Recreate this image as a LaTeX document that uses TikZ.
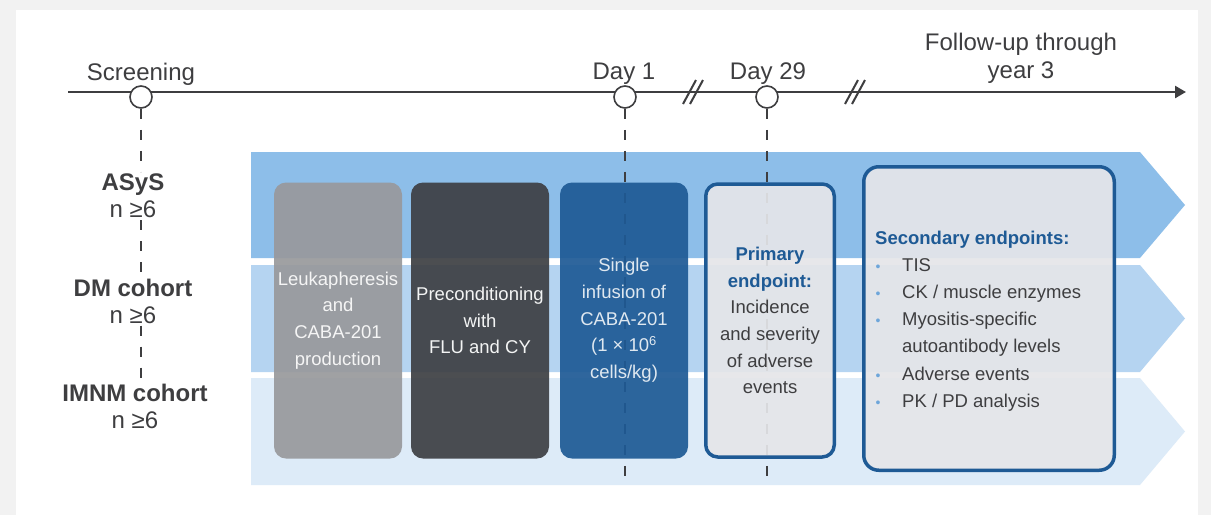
\documentclass[tikz,border=0pt]{standalone}
\usepackage{fontspec}
\setmainfont{Liberation Sans}
\usepackage{tikz}
\usetikzlibrary{arrows.meta, positioning, calc}
\definecolor{bandtop}{RGB}{141,190,233}
\definecolor{bandmid}{RGB}{181,212,241}
\definecolor{bandlow}{RGB}{221,235,248}
\definecolor{leukgray}{RGB}{152,153,156}
\definecolor{condgray}{RGB}{61,63,67}
\definecolor{navy}{RGB}{30,90,149}
\definecolor{panel}{RGB}{229,230,233}
\definecolor{ink}{RGB}{62,62,64}
\definecolor{dot}{RGB}{110,166,218}
\newcommand{\blt}{\makebox[27pt][l]{\hspace{0.5pt}\textcolor{dot}{\fontsize{14}{14}\selectfont •}}}

\begin{document}
\begin{tikzpicture}[x=1pt, y=-1pt,
  tl/.style={text=ink, font=\fontsize{24}{28}\selectfont, align=center},
  milestone/.style={circle, draw=ink, line width=1.6pt, fill=white, minimum size=22pt, inner sep=0pt},
  cohort/.style={text=ink, font=\fontsize{24}{27}\selectfont, align=center, inner sep=2pt},
  guide/.style={ink, line width=2.5pt, dash pattern=on 10pt off 11pt},
  phase/.style={rounded corners=12pt, minimum width=128pt, minimum height=276pt, align=center,
    font=\fontsize{18.5}{26.7}\selectfont, fill opacity=0.92, text opacity=1, inner sep=0pt},
  endpt/.style={phase, draw=navy, line width=3.5pt, fill=panel, text=ink}]
  \useasboundingbox (0,0) rectangle (1211,515);
  % frame
  \fill[black!5] (0,0) rectangle (1211,515);
  \fill[white] (16,10) rectangle (1198,515);
  % cohort bands
  \foreach \c/\t/\b in {bandtop/152/258, bandmid/265/372, bandlow/378/485} {
    \fill[\c] (251,\t) -- (1140,\t) -- (1185,{(\t+\b)/2}) -- (1140,\b) -- (251,\b) -- cycle;
  }
  % timeline
  \coordinate (tstart) at (68,92);
  \coordinate (tend) at (1186,92);
  \draw[ink, line width=2.5pt, -{Triangle[length=11pt, width=12pt]}] (tstart) -- (tend);
  \foreach \bx in {695,857} {
    \draw[ink, line width=2pt] (\bx-12,104) -- (\bx+1,80);
    \draw[ink, line width=2pt] (\bx-5,104) -- (\bx+8,80);
  }
  \node[milestone] (screen) at (141,97) {};
  \node[milestone] (day1) at (625,97) {};
  \node[milestone] (day29) at (767,97) {};
  \node[tl, anchor=base] (screenlbl) at (141,80) {Screening};
  \node[tl, anchor=base] (day1lbl) at (624,79) {Day 1};
  \node[tl, anchor=base] (day29lbl) at (768,79) {Day 29};
  \node[tl] (follow) at (1021,58) {Follow-up through\\year 3};
  % cohorts
  \node[cohort] (asys) at (133,196) {\textbf{ASyS}\\n ≥6};
  \node[cohort] (dm) at (133,301) {\textbf{DM cohort}\\n ≥6};
  \node[cohort] (imnm) at (135,406) {\textbf{IMNM cohort}\\n ≥6};
  \draw[guide] (screen.south) -- (screen.south |- asys.north);
  \draw[guide] (screen.south |- asys.south) -- (screen.south |- dm.north);
  \draw[guide] (screen.south |- dm.south) -- (screen.south |- imnm.north);
  \coordinate (d1end) at (625,481);
  \coordinate (d29end) at (767,481);
  \draw[guide] (day1.south) -- (d1end);
  \draw[guide] (day29.south) -- (d29end);
  % study steps
  \node[phase, fill=leukgray, text=white!90!leukgray] (leuk) at (338,320.5)
    {Leukapheresis\\and\\CABA-201\\production};
  \node[phase, fill=condgray, minimum width=138pt, text=white!94!condgray] (cond) at (480,320.5)
    {Preconditioning\\with\\FLU and CY};
  \node[phase, fill=navy, text=white!86!navy] (infuse) at (624,320.5)
    {Single\\infusion of\\CABA-201\\(1 × 10\textsuperscript{6}\\cells/kg)};
  \node[endpt, minimum width=128.5pt, minimum height=273pt] (primary) at (770,320.5)
    {\textcolor{navy}{\textbf{Primary}}\\\textcolor{navy}{\textbf{endpoint:}}\\Incidence\\and severity\\of adverse\\events};
  \node[endpt, rounded corners=15pt, minimum width=250.5pt, minimum height=303.5pt] (second) at (989,318.5) {};
  \node[anchor=west, inner sep=0pt, align=left, text=ink, font=\fontsize{18.5}{27.2}\selectfont] (secondtxt) at (875,321)
    {\textcolor{navy}{\textbf{Secondary endpoints:}}\\
     \blt TIS\\
     \blt CK / muscle enzymes\\
     \blt Myositis-specific\\
     \hspace*{27pt}autoantibody levels\\
     \blt Adverse events\\
     \blt PK / PD analysis};
\end{tikzpicture}
\end{document}
